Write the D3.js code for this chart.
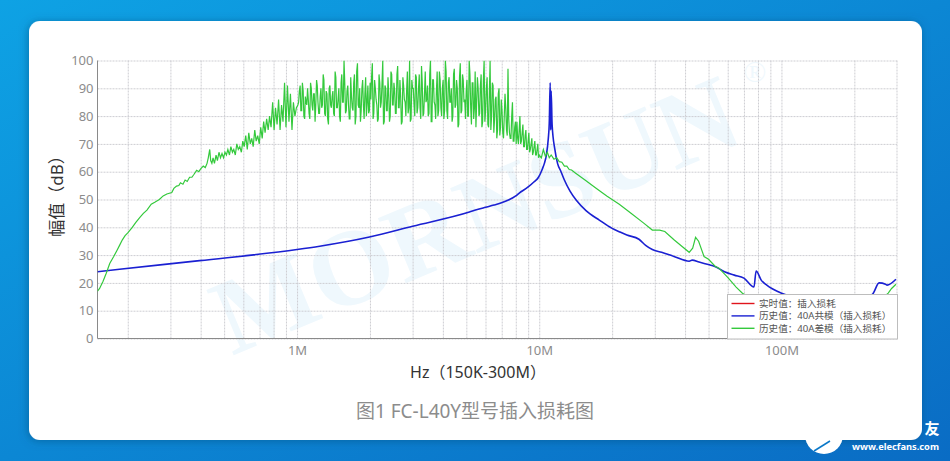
<!DOCTYPE html>
<html>
<head>
<meta charset="utf-8">
<script src="https://cdn.jsdelivr.net/npm/d3@7"></script>
<style>
    html, body { margin: 0; padding: 0; background: #0a85d4; overflow: hidden; }
    text { font-family: "Noto Sans", "Noto Sans CJK SC", sans-serif; }
    .tick text { fill: #8c8c8c; font-size: 13px; font-family: "Noto Sans", sans-serif; }
    .grid line { stroke: #cdcdd2; stroke-dasharray: 2 1; }
    .grid .domain { stroke: none; }
</style>
</head>
<body>
<div id="chart"></div>
<script>
var svgWidth = 950;
var svgHeight = 461;

var margin = {
    top: 60.5,
    right: 53,
    bottom: 122.5,
    left: 97.5
};

var width = svgWidth - margin.left - margin.right;
var height = svgHeight - margin.top - margin.bottom;

// frequencies are in MHz, values in dB
var freqRange = [0.15, 300];
var dbRange = [0, 100];
var dbTicks = [0, 10, 20, 30, 40, 50, 60, 70, 80, 90, 100];
var freqTicks = [0.2, 0.3, 0.4, 0.5, 0.6, 0.7, 0.8, 0.9, 1, 2, 3, 4, 5, 6, 7, 8, 9, 10, 20, 30, 40, 50, 60, 70, 80, 90, 100, 200];
var freqLabels = { 1: "1M", 10: "10M", 100: "100M" };

var legendNames = ["实时值：插入损耗", "历史值：40A共模（插入损耗）", "历史值：40A差模（插入损耗）"];
var legendColors = ["#e0141c", "#1a20d2", "#34c93c"];

// no live trace in the picture, only its legend entry
var liveTrace = [];

var blueFreq = [0.15, 0.185, 0.396, 1, 1.24, 1.99, 3, 5.15, 5.5, 6, 6.5, 7.03, 7.5, 8, 8.27, 9, 9.5, 9.93, 10.3, 10.5, 10.7, 10.9, 11, 11.1, 11.15, 11.2, 11.3, 11.6, 11.9, 12.3, 12.7, 13.4, 14.2, 15.6, 17.7, 20, 21.4, 23, 25.8, 27.5, 29.3, 32, 36, 41.6, 42.8, 45.7, 50.4, 52.8, 58.2, 63.9, 70, 77, 78.6, 82.5, 87, 100, 118, 157, 210, 238, 253, 269, 273, 297];
var blueDb = [24, 24.9, 28, 32, 33.2, 36.5, 40.4, 45.5, 46.3, 47.2, 48, 48.9, 49.9, 51.3, 52.3, 54.5, 56.3, 58, 61, 63, 66, 72, 77.5, 92, 75, 89, 77, 68, 63, 60, 57, 53, 49.8, 46, 42.6, 39.6, 38.4, 37.2, 35.7, 33.5, 32, 31, 29.5, 27.8, 28.2, 27.5, 26.5, 26, 24, 22.8, 21.7, 18.5, 24.3, 21, 19.2, 16.3, 14.5, 13.5, 14, 16, 20, 19.5, 19.2, 21.3];

var greenLowFreq = [0.15, 0.153, 0.158, 0.163, 0.1685, 0.175, 0.18, 0.185, 0.19, 0.195, 0.2, 0.208, 0.216, 0.224, 0.232, 0.24, 0.25, 0.2585, 0.27, 0.28, 0.29, 0.304, 0.31, 0.318, 0.325, 0.33, 0.338, 0.345, 0.352, 0.36, 0.368, 0.375, 0.385, 0.393, 0.4, 0.41, 0.418, 0.425, 0.43, 0.436, 0.44, 0.445];
var greenLowDb = [17, 18, 20.5, 23.5, 27, 29.5, 31.5, 33.5, 35.5, 37, 38, 39.8, 41.8, 43.5, 45, 46.2, 48.3, 49, 50, 51.3, 52, 52.5, 54, 54.8, 55, 56, 55.5, 57, 56.5, 58, 58, 59, 60.5, 60, 61, 62, 61.5, 63, 65, 68, 64, 63];

var greenNoiseFreq = [
    0.45, 0.456, 0.463, 0.469, 0.476, 0.483, 0.49, 0.497, 0.504, 0.511, 0.518, 0.526, 0.533, 0.541, 0.548, 0.556, 0.564, 0.572, 0.58,
    0.589, 0.597, 0.605, 0.614, 0.623, 0.632, 0.641, 0.65, 0.659, 0.669, 0.678, 0.688, 0.698, 0.708, 0.718, 0.728,
    0.738, 0.749, 0.76, 0.77, 0.781, 0.793, 0.804, 0.815, 0.827, 0.839, 0.851, 0.863, 0.875, 0.888,
    0.9, 0.913, 0.926, 0.939, 0.953, 0.966, 0.98, 0.994,
    1.008, 1.022, 1.037, 1.052, 1.067, 1.082, 1.097, 1.113, 1.129, 1.145, 1.161, 1.178, 1.195, 1.212,
    1.229, 1.246, 1.264, 1.282, 1.3, 1.319, 1.338, 1.357, 1.376, 1.396, 1.416, 1.436, 1.456, 1.477,
    1.498, 1.52, 1.541, 1.563, 1.585, 1.608, 1.631, 1.654, 1.678, 1.702, 1.726, 1.751, 1.776, 1.801,
    1.827, 1.853, 1.879, 1.906, 1.933, 1.961, 1.989,
    2.017, 2.046, 2.075, 2.105, 2.135, 2.165, 2.196, 2.227, 2.259, 2.291,
    2.324, 2.357, 2.391, 2.425, 2.459, 2.494, 2.53, 2.566, 2.603, 2.64,
    2.678, 2.716, 2.754, 2.794, 2.834, 2.874, 2.915, 2.957, 2.999,
    3.042, 3.085, 3.129, 3.174, 3.219, 3.265, 3.312, 3.359, 3.407, 3.455, 3.505, 3.555, 3.605, 3.657, 3.709, 3.762, 3.816, 3.87, 3.925, 3.981,
    4.038, 4.096, 4.154, 4.214, 4.274, 4.335, 4.397, 4.459, 4.523, 4.588, 4.653, 4.72, 4.787, 4.855, 4.924, 4.995,
    5.066, 5.138, 5.212, 5.286, 5.362, 5.438, 5.516, 5.595, 5.675, 5.756, 5.838, 5.921,
    6.006, 6.092, 6.179, 6.267, 6.356, 6.447, 6.539, 6.632, 6.727, 6.823, 6.921,
    7.019, 7.12, 7.222, 7.325, 7.429, 7.535, 7.643, 7.752, 7.863, 7.975,
    8.089, 8.204, 8.321, 8.44, 8.561, 8.683, 8.807, 8.933, 9.06, 9.189, 9.321, 9.454, 9.589, 9.726, 9.865, 10
];
var greenNoiseDb = [
    65, 63, 66, 64, 67, 65, 66.5, 65, 67, 66, 68, 66, 69, 67, 68, 66, 70, 68, 69,
    67, 71, 69, 73, 68, 74, 70, 72, 69, 75, 71, 73, 70, 76, 72, 78,
    74, 79, 75, 80, 76, 85, 75, 83, 77, 86, 75, 84, 78, 92,
    76, 91, 78, 88, 75, 85, 80, 83,
    84, 89, 82, 92, 80, 87, 84, 86, 79, 90, 82, 88, 84, 91,
    81, 87, 83, 95, 81, 89, 79, 90, 84, 87, 81, 96, 83, 86,
    80, 92, 85, 100, 81, 89, 84, 79, 87, 82, 95, 80, 99, 83,
    78, 90, 84, 88, 80, 91, 82,
    86, 99, 81, 90, 84, 79, 92, 85, 100, 78,
    90, 82, 88, 80, 95, 84, 89, 81, 98, 83,
    87, 78, 91, 85, 89, 81, 100, 79, 90,
    84, 95, 81, 90, 83, 98, 80, 88, 85, 91, 81, 100, 78, 93, 84, 89, 80, 96, 83, 90,
    79, 100, 82, 92, 85, 90, 80, 97, 84, 90, 77, 99, 82, 93, 86, 89,
    80, 100, 83, 92, 79, 96, 85, 90, 81, 95, 78, 100,
    82, 94, 76, 100, 80, 91, 79, 87, 75, 90, 76,
    82, 72, 88, 75, 97, 74, 72, 85, 71, 78,
    78, 70, 80, 71, 77, 69, 75, 68, 74, 68, 72, 67, 71, 66, 70, 66
];

// the dense core of the trace, sitting between the points above
var greenCoreFreq = [
    1.015, 1.03, 1.045, 1.06, 1.075, 1.09, 1.105, 1.121, 1.137, 1.153, 1.17, 1.187, 1.204, 1.22, 1.238, 1.255, 1.273, 1.291, 1.31, 1.329, 1.348, 1.367, 1.386, 1.406,
    1.426, 1.446, 1.467, 1.488, 1.509, 1.53, 1.552, 1.574, 1.597, 1.62, 1.643, 1.666, 1.69, 1.714, 1.738, 1.763, 1.788, 1.814, 1.84, 1.866, 1.892, 1.92, 1.947, 1.975,
    2.003, 2.031, 2.06, 2.09, 2.12, 2.15, 2.18, 2.211, 2.243, 2.275, 2.307, 2.34, 2.374, 2.408, 2.442, 2.477, 2.512, 2.548, 2.585, 2.622, 2.659, 2.697, 2.735, 2.774, 2.814, 2.854, 2.895, 2.936, 2.978,
    3.02, 3.063, 3.107, 3.151, 3.196, 3.242, 3.288, 3.335, 3.383, 3.431, 3.48, 3.53, 3.58, 3.631, 3.683, 3.735, 3.789, 3.843, 3.897, 3.953,
    4.01, 4.067, 4.125, 4.184, 4.244, 4.304, 4.366, 4.428, 4.491, 4.555, 4.62, 4.686, 4.753, 4.821, 4.89, 4.96,
    5.03, 5.102, 5.175, 5.249, 5.324, 5.4, 5.477, 5.555, 5.635, 5.715, 5.797, 5.88, 5.963,
    6.049, 6.135, 6.223, 6.311, 6.401, 6.493, 6.585, 6.68, 6.775, 6.872, 6.97,
    7.07, 7.171, 7.273, 7.377, 7.482, 7.589, 7.697, 7.807, 7.919, 8.032,
    8.146, 8.262, 8.38, 8.5, 8.622, 8.745, 8.87, 8.996, 9.124, 9.255, 9.387, 9.521, 9.657, 9.795, 9.93
];
var greenCoreDb = [
    85, 91, 82, 89, 79, 85, 90, 81, 92, 84, 88, 78, 93, 85, 81, 90, 84, 93, 80, 88, 77, 91, 83, 89,
    80, 94, 83, 90, 78, 95, 85, 92, 82, 91, 79, 94, 83, 92, 77, 96, 84, 90, 82, 93, 79, 94, 85, 81,
    92, 94, 79, 93, 86, 78, 95, 83, 92, 77, 91, 82, 94, 78, 96, 84, 92, 81, 95, 83, 93, 77, 94, 86, 80, 96, 83, 78, 93,
    90, 80, 94, 83, 95, 79, 92, 81, 96, 86, 80, 95, 78, 93, 85, 79, 96, 82, 93, 80,
    93, 82, 96, 79, 94, 85, 78, 95, 83, 93, 76, 94, 81, 95, 85, 79,
    93, 80, 95, 77, 92, 83, 76, 94, 80, 91, 76, 93, 78,
    90, 77, 88, 75, 92, 74, 86, 72, 88, 73, 86,
    74, 80, 83, 73, 79, 72, 80, 71, 76, 70,
    72, 75, 70, 74, 69, 73, 68, 71, 67, 70, 66, 69, 66, 68, 65
];

var greenHighFreq = [10.2, 10.4, 10.6, 10.8, 11, 11.2, 11.5, 11.8, 12.1, 12.4, 12.7, 13, 13.3, 13.6, 14, 15.5, 17, 19, 21.4, 24, 27, 29.3, 31.4, 33, 36, 39, 41.6, 43, 44.2, 45.5, 47.9, 50, 53.2, 55.2, 60, 65, 69, 80, 100, 150, 200, 250, 269, 276, 285, 297];
var greenHighDb = [65, 68, 65.5, 67, 65, 66, 64.5, 65, 63.6, 63.4, 62, 62, 60.8, 60.6, 59.7, 56.9, 54.3, 51.3, 48.3, 45, 41.5, 39, 39, 38.5, 35.5, 33, 31, 32.5, 36.4, 35, 29.5, 28.5, 26, 25.3, 22, 18.5, 16.3, 13, 10, 8, 9, 13, 15.5, 16.3, 18, 19.5];

var blueTrace = d3.zip(blueFreq, blueDb);
var greenMid = d3.zip(greenNoiseFreq, greenNoiseDb)
    .concat(d3.zip(greenCoreFreq, greenCoreDb))
    .sort((a, b) => a[0] - b[0]);
var greenTrace = d3.zip(greenLowFreq, greenLowDb)
    .concat(greenMid)
    .concat(d3.zip(greenHighFreq, greenHighDb));

var svg = d3
    .select("#chart")
    .append("svg")
    .attr("width", svgWidth)
    .attr("height", svgHeight)
    .style("display", "block");

var defs = svg.append("defs");

var bgGradient = defs.append("linearGradient")
    .attr("id", "bg")
    .attr("x1", "0%")
    .attr("y1", "0%")
    .attr("x2", "100%")
    .attr("y2", "100%");
bgGradient.append("stop").attr("offset", "0%").attr("stop-color", "#0ea2e4");
bgGradient.append("stop").attr("offset", "100%").attr("stop-color", "#0a6cc4");

var shadow = defs.append("filter")
    .attr("id", "cardShadow")
    .attr("x", "-5%")
    .attr("y", "-5%")
    .attr("width", "110%")
    .attr("height", "110%");
shadow.append("feDropShadow")
    .attr("dx", -1)
    .attr("dy", 1)
    .attr("stdDeviation", 4)
    .attr("flood-color", "#04507f")
    .attr("flood-opacity", 0.55);

defs.append("clipPath")
    .attr("id", "plotClip")
    .append("rect")
    .attr("width", width)
    .attr("height", height);

// Page background and white card
svg.append("rect")
    .attr("width", svgWidth)
    .attr("height", svgHeight)
    .attr("fill", "url(#bg)");

svg.append("rect")
    .attr("x", 29)
    .attr("y", 21)
    .attr("width", 893)
    .attr("height", 419)
    .attr("rx", 11)
    .attr("fill", "#ffffff")
    .attr("filter", "url(#cardShadow)");

// Brand watermark behind the plot
var watermark = svg.append("g")
    .attr("transform", "translate(232, 356) rotate(-22.7)");

watermark.append("text")
    .text("MORNSUN")
    .attr("font-size", 108)
    .attr("font-weight", "bold")
    .style("font-family", "'Liberation Serif', serif")
    .attr("fill", "#eff8fd");

svg.append("text")
    .text("®")
    .attr("x", 755)
    .attr("y", 82)
    .attr("font-size", 30)
    .attr("text-anchor", "middle")
    .style("font-family", "'Liberation Serif', serif")
    .attr("fill", "#eff8fd");

var chartGroup = svg.append("g")
    .attr("transform", `translate(${margin.left}, ${margin.top})`);

var xScale = d3.scaleLog()
    .domain(freqRange)
    .range([0, width]);

var yScale = d3.scaleLinear()
    .domain(dbRange)
    .range([height, 0]);

// Grid lines come from the axes themselves
var xGrid = chartGroup.append("g")
    .attr("class", "grid")
    .attr("transform", `translate(0, ${height})`)
    .call(d3.axisBottom(xScale)
        .tickValues(freqTicks)
        .tickSize(-height)
        .tickFormat(d => freqLabels[d] || ""));

xGrid.selectAll(".tick text")
    .attr("y", 7);

var yGrid = chartGroup.append("g")
    .attr("class", "grid")
    .call(d3.axisLeft(yScale)
        .tickValues(dbTicks)
        .tickSize(-width));

yGrid.selectAll(".tick text")
    .attr("x", -4);

// top and right edge, left and bottom axis lines
chartGroup.append("line")
    .attr("x1", width)
    .attr("x2", width)
    .attr("y1", 0)
    .attr("y2", height)
    .attr("stroke", "#cdcdd2")
    .attr("stroke-dasharray", "2 1");

chartGroup.append("line")
    .attr("x1", 0)
    .attr("x2", 0)
    .attr("y1", 0)
    .attr("y2", height)
    .attr("stroke", "#8a8a8a");

chartGroup.append("line")
    .attr("x1", 0)
    .attr("x2", width)
    .attr("y1", height)
    .attr("y2", height)
    .attr("stroke", "#8a8a8a");

var lineGen = d3.line()
    .x(d => xScale(d[0]))
    .y(d => yScale(d[1]));

var blueLine = d3.line()
    .x(d => xScale(d[0]))
    .y(d => yScale(d[1]))
    .curve(d3.curveMonotoneX);

var traces = chartGroup.append("g")
    .attr("clip-path", "url(#plotClip)");

traces.append("path")
    .attr("d", lineGen(liveTrace))
    .attr("fill", "none")
    .attr("stroke", legendColors[0]);

traces.append("path")
    .attr("d", blueLine(blueTrace))
    .attr("fill", "none")
    .attr("stroke", legendColors[1])
    .attr("stroke-width", 1.6);

traces.append("path")
    .attr("d", lineGen(greenTrace))
    .attr("fill", "none")
    .attr("stroke", legendColors[2])
    .attr("stroke-width", 1.2);

// Axis titles and caption
svg.append("text")
    .text("幅值（dB）")
    .attr("transform", "translate(63, 192) rotate(-90)")
    .attr("text-anchor", "middle")
    .attr("font-size", 17)
    .attr("fill", "#333333");

svg.append("text")
    .text("Hz（150K-300M）")
    .attr("x", 478)
    .attr("y", 378)
    .attr("text-anchor", "middle")
    .attr("font-size", 16)
    .attr("fill", "#333333");

svg.append("text")
    .text("图1 FC-L40Y型号插入损耗图")
    .attr("x", 475)
    .attr("y", 418)
    .attr("text-anchor", "middle")
    .attr("font-size", 19)
    .attr("fill", "#8c8c8c");

// Legend box in the lower right corner of the plot
var legend = svg.append("g")
    .attr("transform", "translate(727.5, 294.5)");

legend.append("rect")
    .attr("width", 170)
    .attr("height", 44.5)
    .attr("fill", "#ffffff")
    .attr("stroke", "#bdbdbd");

var legendRows = legend.selectAll(".row")
    .data(legendNames)
    .enter()
    .append("g")
    .attr("class", "row")
    .attr("transform", (d, i) => `translate(0, ${9 + i * 12.4})`);

legendRows.append("line")
    .attr("x1", 4)
    .attr("x2", 27)
    .attr("stroke", (d, i) => legendColors[i])
    .attr("stroke-width", 1.4);

legendRows.append("text")
    .text(d => d)
    .attr("x", 31.5)
    .attr("y", 3.5)
    .attr("font-size", 9.6)
    .attr("fill", "#555555");

// Site logo peeking out below the card
svg.append("path")
    .attr("d", d3.arc()({ innerRadius: 0, outerRadius: 19, startAngle: Math.PI / 2, endAngle: Math.PI * 1.5 }))
    .attr("transform", "translate(824, 435)")
    .attr("fill", "#ffffff");

svg.append("line")
    .attr("x1", 814)
    .attr("y1", 451)
    .attr("x2", 830)
    .attr("y2", 441)
    .attr("stroke", "#0a78c8")
    .attr("stroke-width", 1.5);

svg.append("text")
    .text("友")
    .attr("x", 932)
    .attr("y", 434)
    .attr("text-anchor", "middle")
    .attr("font-size", 15)
    .attr("font-weight", "bold")
    .attr("fill", "#ffffff");

svg.append("text")
    .text("www.elecfans.com")
    .attr("x", 939)
    .attr("y", 450)
    .attr("text-anchor", "end")
    .attr("font-size", 9.3)
    .attr("font-weight", "bold")
    .attr("fill", "#ffffff");
</script>
</body>
</html>
